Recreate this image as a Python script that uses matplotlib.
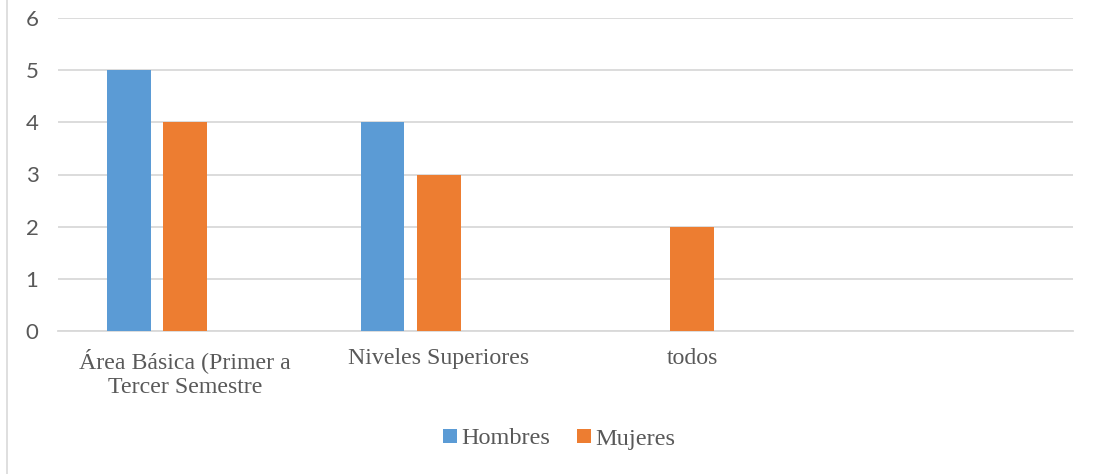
import numpy as np
import matplotlib.pyplot as plt
from matplotlib.lines import Line2D

# data
categories = ['Área Básica (Primer a\nTercer Semestre', 'Niveles Superiores', 'todos', '']
hombres = [5, 4, np.nan, np.nan]
mujeres = [4, 3, 2, np.nan]
yticks = [0, 1, 2, 3, 4, 5, 6]

blue = '#5B9BD5'
orange = '#ED7D31'
text_grey = '#595959'

fig = plt.figure(figsize=(10.99, 4.74), dpi=100)
ax = fig.add_axes([58 / 1099, 1 - 331 / 474, (1073 - 58) / 1099, (331 - 18) / 474])

x = np.arange(len(categories))
width = 0.173
ax.bar(x - 0.221, hombres, width, color=blue, label='Hombres', zorder=3)
ax.bar(x, mujeres, width, color=orange, label='Mujeres', zorder=3)

ax.set_xlim(-0.5, len(categories) - 0.5)
ax.set_ylim(0, 6)
ax.set_yticks(yticks)
ax.yaxis.grid(True, color='#D9D9D9', linewidth=1.3, zorder=0)
ax.set_axisbelow(True)

for s in ['top', 'right', 'left']:
    ax.spines[s].set_visible(False)
ax.spines['bottom'].set_color('#D9D9D9')
ax.spines['bottom'].set_linewidth(1.3)

ax.set_xticks(x)
ax.set_xticklabels(categories, fontfamily='Liberation Serif', fontsize=17.2,
                   color=text_grey, linespacing=1.3)
ax.tick_params(axis='x', length=0, pad=12)
ax.tick_params(axis='y', length=0, pad=14, labelsize=16, labelcolor=text_grey)
for lbl in ax.get_yticklabels():
    lbl.set_fontfamily('Lato')

leg = fig.legend(loc='center', bbox_to_anchor=(0.509, 1 - 439 / 474), ncol=2,
                 frameon=False, handlelength=0.55, handleheight=0.55,
                 handletextpad=0.2, columnspacing=1.1,
                 prop={'family': 'Liberation Serif', 'size': 17.5})
for t in leg.get_texts():
    t.set_color(text_grey)

# chart border, only the left edge is visible
fig.add_artist(Line2D([6.5 / 1099, 6.5 / 1099], [0, 1], color='#D9D9D9', linewidth=1.2))

fig.savefig('out.png', dpi=100)
